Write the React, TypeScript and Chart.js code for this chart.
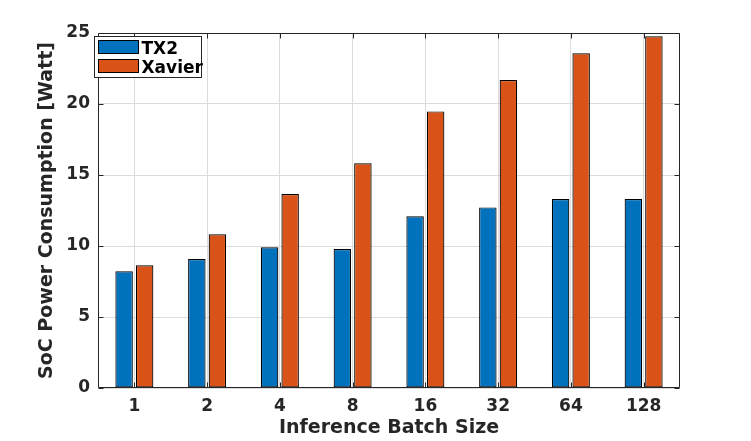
import { useEffect, useRef } from 'react';
import { Chart, registerables } from 'chart.js';

Chart.register(...registerables);

const batchSizes = ['1', '2', '4', '8', '16', '32', '64', '128'];
const tx2Power = [8.22, 9.08, 9.91, 9.79, 12.09, 12.72, 13.31, 13.31];
const xavierPower = [8.64, 10.82, 13.66, 15.82, 19.48, 21.69, 23.57, 24.77];

const INK = '#262626';
const FAMILY = '"DejaVu Sans", sans-serif';

// MATLAB-style box, inward ticks and a legend sitting inside the axes
const matlabAxes = {
  id: 'matlabAxes',
  afterDatasetsDraw(chart: any) {
    const { ctx, chartArea: a, scales } = chart;
    const x = scales.x;
    const y = scales.y;
    const L = Math.round(a.left) + 0.5;
    const R = Math.round(a.right) - 0.5;
    const T = Math.round(a.top) + 0.5;
    const B = Math.round(a.bottom) - 0.5;

    ctx.save();
    ctx.strokeStyle = INK;
    ctx.lineWidth = 1;
    ctx.beginPath();
    ctx.rect(L, T, R - L, B - T);
    x.ticks.forEach((_: any, i: number) => {
      const px = Math.round(x.getPixelForTick(i)) + 0.5;
      ctx.moveTo(px, B); ctx.lineTo(px, B - 5);
      ctx.moveTo(px, T); ctx.lineTo(px, T + 5);
    });
    y.ticks.forEach((_: any, i: number) => {
      const py = Math.round(y.getPixelForTick(i)) + 0.5;
      ctx.moveTo(L, py); ctx.lineTo(L + 5, py);
      ctx.moveTo(R, py); ctx.lineTo(R - 5, py);
    });
    ctx.stroke();

    // legend
    const bx = Math.round(a.left) - 3.5;
    const by = Math.round(a.top) + 3.5;
    ctx.fillStyle = '#ffffff';
    ctx.fillRect(bx, by, 107, 41);
    ctx.strokeStyle = INK;
    ctx.strokeRect(bx, by, 107, 41);
    ctx.font = `bold 17px ${FAMILY}`;
    ctx.textBaseline = 'alphabetic';
    chart.data.datasets.forEach((ds: any, i: number) => {
      const sy = by + 4 + i * 19;
      ctx.fillStyle = ds.backgroundColor;
      ctx.fillRect(bx + 4, sy, 40, 13);
      ctx.strokeStyle = '#000000';
      ctx.strokeRect(bx + 4, sy, 40, 13);
      ctx.fillStyle = '#000000';
      ctx.fillText(ds.label, bx + 47, by + 17 + i * 19);
    });
    ctx.restore();
  },
};

function PowerChart() {
  const canvasRef = useRef<HTMLCanvasElement>(null);
  const chartRef = useRef<Chart | null>(null);

  useEffect(() => {
    if (!canvasRef.current) return;
    const existing = Chart.getChart(canvasRef.current);
    if (existing) existing.destroy();
    chartRef.current?.destroy();

    const tickFont = { family: FAMILY, size: 17, weight: 'bold' as const };
    const titleFont = { family: FAMILY, size: 19, weight: 'bold' as const };

    chartRef.current = new Chart(canvasRef.current, {
      type: 'bar',
      data: {
        labels: batchSizes,
        datasets: [
          {
            label: 'TX2',
            data: tx2Power,
            backgroundColor: '#0072BD',
            borderColor: '#000000',
            borderWidth: 1.2,
            borderSkipped: false,
            barPercentage: 0.85,
            categoryPercentage: 0.565,
          },
          {
            label: 'Xavier',
            data: xavierPower,
            backgroundColor: '#D95319',
            borderColor: '#000000',
            borderWidth: 1.2,
            borderSkipped: false,
            barPercentage: 0.85,
            categoryPercentage: 0.565,
          },
        ],
      },
      options: {
        responsive: true,
        maintainAspectRatio: false,
        animation: false,
        layout: { padding: { top: 33, right: 71, left: 0, bottom: 0 } },
        plugins: {
          legend: { display: false },
          tooltip: { enabled: false },
        },
        scales: {
          x: {
            offset: true,
            grid: { offset: false, color: '#dcdcdc', drawTicks: false },
            border: { display: false },
            ticks: { color: INK, font: tickFont, padding: 8, maxRotation: 0 },
            title: {
              display: true,
              text: 'Inference Batch Size',
              color: INK,
              font: titleFont,
              padding: { top: 0, bottom: 2 },
            },
            afterFit: (scale: any) => { scale.height = 53; },
          },
          y: {
            min: 0,
            max: 25,
            ticks: { stepSize: 5, color: INK, font: tickFont, padding: 8 },
            grid: { color: '#dcdcdc', drawTicks: false },
            border: { display: false },
            title: {
              display: true,
              text: 'SoC Power Consumption [Watt]',
              color: INK,
              font: titleFont,
              padding: { top: 36, bottom: 0 },
            },
            afterFit: (scale: any) => { scale.width = 98; },
          },
        },
      },
      plugins: [matlabAxes],
    });

    return () => { chartRef.current?.destroy(); chartRef.current = null; };
  }, []);

  return <canvas ref={canvasRef} />;
}

export default function App() {
  useEffect(() => { document.body.style.margin = '0'; }, []);
  return (
    <div style={{ width: 751, height: 441, position: 'relative', background: '#ffffff' }}>
      <PowerChart />
    </div>
  );
}
